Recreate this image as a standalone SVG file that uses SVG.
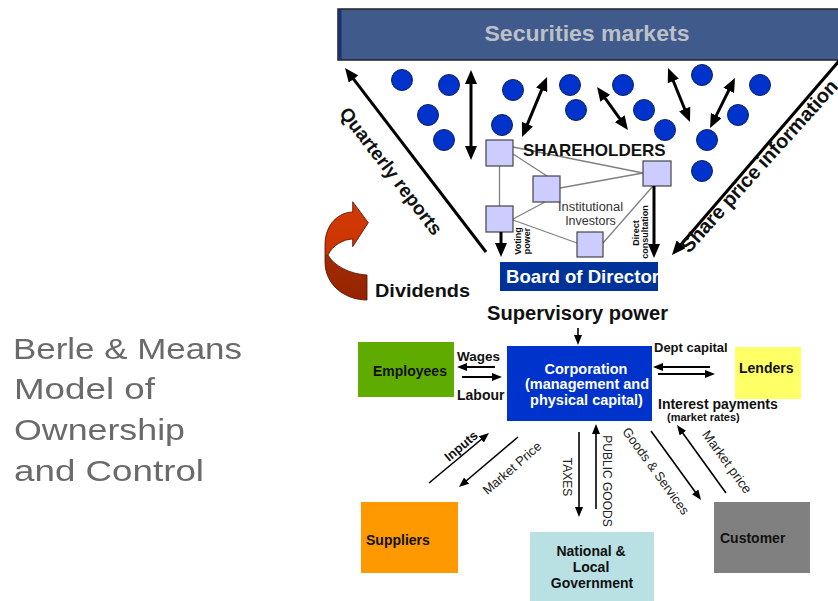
<svg xmlns="http://www.w3.org/2000/svg" width="838" height="601" viewBox="0 0 838 601">
  <style>
    text { font-family: "Liberation Sans", Arial, sans-serif; }
    .b { font-weight: bold; fill: #111; }
    .w { font-weight: bold; fill: #fff; }
    .lab { fill: #222; }
    .dot { fill: #0033cc; stroke: #10205a; stroke-width: 1; }
    .sq { fill: #ccccff; stroke: #444; stroke-width: 1.2; }
    .tie { stroke: #808080; stroke-width: 1.3; fill: none; }
    .heavy { stroke: #000; stroke-width: 3; fill: none; marker-end: url(#ah); }
    .heavy2 { stroke: #000; stroke-width: 3; fill: none; marker-start: url(#ah); marker-end: url(#ah); }
    .light { stroke: #000; stroke-width: 1.6; fill: none; marker-end: url(#al); }
    .mid { stroke: #000; stroke-width: 2; fill: none; marker-end: url(#al); }
    .title { font-family: "DejaVu Sans", Verdana, sans-serif; font-size: 29px; fill: #6a6a6a; }
  </style>
  <defs>
    <marker id="ah" viewBox="0 0 14 12" refX="4" refY="6" markerWidth="14" markerHeight="12" markerUnits="userSpaceOnUse" orient="auto-start-reverse">
      <path d="M0,0 L14,6 L0,12 Z" fill="#000"/>
    </marker>
    <marker id="al" viewBox="0 0 10 8" refX="3" refY="4" markerWidth="10" markerHeight="8" markerUnits="userSpaceOnUse" orient="auto-start-reverse">
      <path d="M0,0 L10,4 L0,8 Z" fill="#000"/>
    </marker>
    <linearGradient id="ribbon" gradientUnits="userSpaceOnUse" x1="0" y1="200" x2="0" y2="300">
      <stop offset="0" stop-color="#d13a06"/>
      <stop offset="0.54" stop-color="#cc3300"/>
      <stop offset="0.55" stop-color="#a22a04"/>
      <stop offset="1" stop-color="#962400"/>
    </linearGradient>
    <clipPath id="boardClip">
      <rect x="500" y="262" width="158" height="29"/>
    </clipPath>
    <filter id="soft" x="-5%" y="-5%" width="110%" height="110%">
      <feGaussianBlur stdDeviation="0.7"/>
    </filter>
  </defs>

  <rect width="838" height="601" fill="#fff"/>

  <!-- heading block on the left -->
  <g id="title" class="title" filter="url(#soft)">
    <text x="13" y="359" textLength="229" lengthAdjust="spacingAndGlyphs">Berle &amp; Means</text>
    <text x="14" y="399" textLength="141" lengthAdjust="spacingAndGlyphs">Model of</text>
    <text x="14" y="440" textLength="171" lengthAdjust="spacingAndGlyphs">Ownership</text>
    <text x="14" y="481" textLength="190" lengthAdjust="spacingAndGlyphs">and Control</text>
  </g>

  <!-- market bar -->
  <g id="securities">
    <rect x="338" y="9" width="510" height="51" fill="#415a8c" stroke="#222" stroke-width="1.5"/>
    <rect x="338" y="9.75" width="3.5" height="49.5" fill="#1c3270"/>
    <text x="587" y="41" text-anchor="middle" font-size="22" font-weight="bold" fill="#bcc0c8" textLength="205" lengthAdjust="spacingAndGlyphs">Securities markets</text>
  </g>

  <!-- individual shareholders -->
  <g id="investors">
    <circle class="dot" cx="402" cy="80" r="10.5"/>
    <circle class="dot" cx="449" cy="85" r="10.5"/>
    <circle class="dot" cx="428" cy="115" r="10.5"/>
    <circle class="dot" cx="444" cy="140" r="10.5"/>
    <circle class="dot" cx="513" cy="90" r="10.5"/>
    <circle class="dot" cx="502" cy="125" r="10.5"/>
    <circle class="dot" cx="570" cy="85" r="10.5"/>
    <circle class="dot" cx="576" cy="110" r="10.5"/>
    <circle class="dot" cx="623" cy="85" r="10.5"/>
    <circle class="dot" cx="644" cy="110" r="10.5"/>
    <circle class="dot" cx="665" cy="130" r="10.5"/>
    <circle class="dot" cx="702" cy="75" r="10.5"/>
    <circle class="dot" cx="738" cy="115" r="10.5"/>
    <circle class="dot" cx="760" cy="85" r="10.5"/>
    <circle class="dot" cx="707" cy="140" r="10.5"/>
    <circle class="dot" cx="702" cy="171" r="10.5"/>
  </g>

  <!-- institutional shareholders network -->
  <g id="shareholders">
    <g class="tie">
      <line x1="499.5" y1="166" x2="499.5" y2="206"/>
      <line x1="513" y1="147" x2="643" y2="173"/>
      <line x1="513" y1="154" x2="547" y2="176"/>
      <line x1="560" y1="188" x2="643" y2="173"/>
      <line x1="513" y1="219" x2="545" y2="202"/>
      <line x1="513" y1="220" x2="577" y2="243"/>
      <line x1="603" y1="243" x2="653" y2="186"/>
    </g>
    <rect class="sq" x="486" y="140" width="27" height="26"/>
    <rect class="sq" x="533" y="176" width="27" height="26"/>
    <rect class="sq" x="486" y="206" width="27" height="26"/>
    <rect class="sq" x="577" y="232" width="26" height="25"/>
    <rect class="sq" x="643" y="161" width="28" height="25"/>
    <text class="b" x="523" y="156" font-size="17">SHAREHOLDERS</text>
    <text x="590.5" y="211" font-size="12.5" fill="#333" text-anchor="middle" textLength="65" lengthAdjust="spacingAndGlyphs">Institutional</text>
    <text x="590.5" y="225" font-size="12.5" fill="#333" text-anchor="middle">Investors</text>
    <g class="b" font-size="9" text-anchor="middle">
      <text transform="translate(521,241) rotate(-90)">Voting</text>
      <text transform="translate(530,241) rotate(-90)">power</text>
      <text transform="translate(639,233) rotate(-90)">Direct</text>
      <text transform="translate(648,232) rotate(-90)">consultation</text>
    </g>
  </g>

  <g id="board">
    <rect x="500" y="262" width="158" height="29" fill="#003399"/>
    <text class="w" x="506" y="283" font-size="18.5" textLength="153" lengthAdjust="spacingAndGlyphs" clip-path="url(#boardClip)">Board of Director</text>
  </g>

  <g id="dividends">
    <path d="M352.7,212 C340,212 325,223 325,245 L325,262 C325,285 345,300 367,300 L367,275 C350,274 334,266 328,255 C333,245 343,239.5 352.7,239 L352.7,246.7 L368.3,222.7 L352.7,201.7 Z" fill="url(#ribbon)" stroke="#4a1000" stroke-width="0.8"/>
    <text class="b" x="375" y="297" font-size="19" textLength="95" lengthAdjust="spacingAndGlyphs">Dividends</text>
  </g>

  <text class="b" x="487" y="320" font-size="19.5" textLength="181" lengthAdjust="spacingAndGlyphs">Supervisory power</text>

  <g id="corporation">
    <rect x="507" y="346" width="145" height="75" fill="#0033cc"/>
    <g class="w" font-size="14.5" text-anchor="middle">
      <text x="586" y="374">Corporation</text>
      <text x="587" y="389">(management and</text>
      <text x="586.5" y="405">physical capital)</text>
    </g>
  </g>

  <g id="employees">
    <rect x="358" y="342" width="96" height="55" fill="#5fab00"/>
    <text class="b" x="373" y="376" font-size="14">Employees</text>
  </g>

  <g id="lenders">
    <rect x="735" y="347" width="66" height="52" fill="#ffff66"/>
    <text class="b" x="739" y="373" font-size="14">Lenders</text>
  </g>

  <g id="suppliers">
    <rect x="361" y="502" width="97" height="71" fill="#ff9900"/>
    <text class="b" x="366" y="545" font-size="14">Suppliers</text>
  </g>

  <g id="government">
    <rect x="530" y="532" width="124" height="70" fill="#b9e0e2"/>
    <g class="b" font-size="14" text-anchor="middle">
      <text x="591" y="556">National &amp;</text>
      <text x="591" y="572">Local</text>
      <text x="592" y="588">Government</text>
    </g>
  </g>

  <g id="customer">
    <rect x="714" y="502" width="96" height="71" fill="#808080"/>
    <text class="b" x="720" y="543" font-size="14">Customer</text>
  </g>

  <!-- flows -->
  <g id="connectors">
    <line class="heavy" x1="486" y1="252" x2="351.1" y2="75.9"/>
    <line class="heavy" x1="845" y1="54" x2="678.5" y2="247.4"/>
    <line class="heavy2" x1="471" y1="80" x2="471" y2="150"/>
    <line class="heavy2" x1="525.9" y1="127.8" x2="543.2" y2="86.2"/>
    <line class="heavy2" x1="602.9" y1="95.1" x2="622.1" y2="121.9"/>
    <line class="heavy2" x1="671.8" y1="77.3" x2="686.2" y2="112.7"/>
    <line class="heavy2" x1="730.5" y1="86.9" x2="714.5" y2="119.1"/>
    <line class="heavy" x1="501" y1="232" x2="501" y2="247"/>
    <line class="heavy" x1="654" y1="186" x2="654" y2="248"/>

    <line class="light" x1="578" y1="328" x2="578" y2="338"/>
    <line class="mid" x1="495" y1="367" x2="464" y2="367"/>
    <line class="mid" x1="462" y1="377" x2="495" y2="377"/>
    <line class="mid" x1="710" y1="367" x2="660" y2="367"/>
    <line class="mid" x1="658" y1="374" x2="708" y2="374"/>

    <line class="light" x1="429" y1="483" x2="483.6" y2="437.5"/>
    <line class="light" x1="518" y1="437" x2="464.3" y2="482.5"/>
    <line class="light" x1="579" y1="432" x2="579" y2="510"/>
    <line class="light" x1="596" y1="509" x2="596" y2="431"/>
    <line class="light" x1="651" y1="431" x2="696.9" y2="494.3"/>
    <line class="light" x1="726" y1="493" x2="681.1" y2="430.7"/>
  </g>

  <!-- flow labels -->
  <g id="flow-labels">
    <text class="b" font-size="19" text-anchor="middle" transform="translate(391,171) rotate(52.5)" y="6.5">Quarterly reports</text>
    <text class="b" font-size="20" transform="translate(689,254) rotate(-48)">Share price information</text>
    <text class="b" x="457" y="361" font-size="13.5">Wages</text>
    <text class="b" x="457" y="400" font-size="14">Labour</text>
    <text class="b" x="654" y="352" font-size="13">Dept capital</text>
    <text class="b" x="658" y="409" font-size="14">Interest payments</text>
    <text class="b" x="667" y="421" font-size="11">(market rates)</text>
    <text class="b" font-size="13" text-anchor="middle" transform="translate(461,446) rotate(-40)" y="4.5">Inputs</text>
    <text class="lab" font-size="13" text-anchor="middle" transform="translate(512,468) rotate(-41)" y="4.5">Market Price</text>
    <text class="lab" font-size="12" text-anchor="middle" transform="translate(563,477) rotate(90)">TAXES</text>
    <text class="lab" font-size="12" text-anchor="middle" transform="translate(603,481) rotate(90)">PUBLIC GOODS</text>
    <text class="lab" font-size="13" text-anchor="middle" transform="translate(656,471) rotate(54)" y="4.5">Goods &amp; Services</text>
    <text class="lab" font-size="13.5" text-anchor="middle" transform="translate(727,462) rotate(54)" y="4.5">Market price</text>
  </g>
</svg>
